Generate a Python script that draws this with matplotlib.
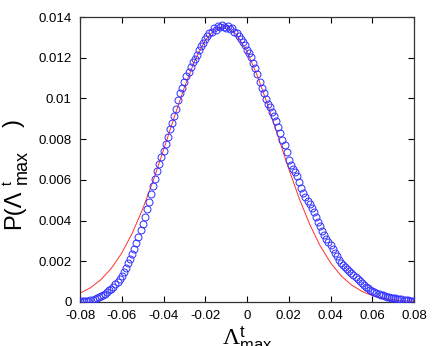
import numpy as np
import matplotlib
matplotlib.use("Agg")
import matplotlib.pyplot as plt

# ===============================================================================
# data

# histogram of Lambda^t_max (bins every 0.001 from -0.08 to 0.08)
lam = np.round(np.arange(-80, 81) * 0.001, 3)
prob = [
    0.00002, 0.00003, 0.00004, 0.00005, 0.00007, 0.00009, 0.00012, 0.00015, 0.00019, 0.00024,
    0.00029, 0.00035, 0.00041, 0.00049, 0.00057, 0.00066, 0.00076, 0.00088, 0.00100, 0.00115,
    0.00130, 0.00148, 0.00168, 0.00190, 0.00212, 0.00236, 0.00262, 0.00290, 0.00320, 0.00352,
    0.00385, 0.00420, 0.00455, 0.00492, 0.00530, 0.00568, 0.00605, 0.00645, 0.00680, 0.00712,
    0.00740, 0.00775, 0.00812, 0.00850, 0.00878, 0.00915, 0.00950, 0.00990, 0.01025, 0.01050,
    0.01080, 0.01108, 0.01132, 0.01155, 0.01178, 0.01196, 0.01215, 0.01240, 0.01258, 0.01272,
    0.01292, 0.01305, 0.01320, 0.01328, 0.01345, 0.01338, 0.01355, 0.01350, 0.01362, 0.01352,
    0.01348, 0.01358, 0.01340, 0.01345, 0.01328, 0.01320, 0.01305, 0.01290, 0.01275, 0.01262,
    0.01238, 0.01222, 0.01205, 0.01175, 0.01150, 0.01118, 0.01080, 0.01052, 0.01025, 0.00995,
    0.00975, 0.00958, 0.00935, 0.00912, 0.00890, 0.00860, 0.00830, 0.00795, 0.00770, 0.00735,
    0.00700, 0.00675, 0.00655, 0.00640, 0.00620, 0.00590, 0.00560, 0.00535, 0.00515, 0.00495,
    0.00480, 0.00460, 0.00440, 0.00418, 0.00395, 0.00372, 0.00350, 0.00330, 0.00310, 0.00295,
    0.00280, 0.00258, 0.00240, 0.00224, 0.00208, 0.00194, 0.00180, 0.00172, 0.00163, 0.00152,
    0.00143, 0.00134, 0.00125, 0.00113, 0.00102, 0.00093, 0.00085, 0.00076, 0.00068, 0.00061,
    0.00055, 0.00049, 0.00044, 0.00040, 0.00036, 0.00033, 0.00030, 0.00027, 0.00025, 0.00022,
    0.00020, 0.00018, 0.00016, 0.00014, 0.00013, 0.00011, 0.00010, 0.00008, 0.00007, 0.00005,
    0.00004,
]

# fitted curve (red), sampled every 0.005
fit_x = np.round(np.arange(-16, 17) * 0.005, 3)
fit_y = [
    0.000430, 0.000699, 0.001095, 0.001653, 0.002405, 0.003373, 0.004560, 0.005941,
    0.007463, 0.009034, 0.010543, 0.011860, 0.012859, 0.013438, 0.013538, 0.013145,
    0.012304, 0.011100, 0.009652, 0.008091, 0.006538, 0.005092, 0.003822, 0.002766,
    0.001929, 0.001297, 0.000840, 0.000525, 0.000316, 0.000183, 0.000103, 0.000055,
    0.000029,
]

xticks = [-0.08, -0.06, -0.04, -0.02, 0, 0.02, 0.04, 0.06, 0.08]
xticklabels = ['-0.08', '-0.06', '-0.04', '-0.02', '0', '0.02', '0.04', '0.06', '0.08']
yticks = [0, 0.002, 0.004, 0.006, 0.008, 0.01, 0.012, 0.014]
yticklabels = ['0', '0.002', '0.004', '0.006', '0.008', '0.01', '0.012', '0.014']

# ===============================================================================

plt.rcParams['font.family'] = ['Liberation Sans', 'DejaVu Sans']
plt.rcParams['mathtext.fontset'] = 'custom'
plt.rcParams['mathtext.rm'] = 'Liberation Serif'
plt.rcParams['mathtext.it'] = 'Liberation Serif:italic'
plt.rcParams['mathtext.sf'] = 'Liberation Sans'

W, H = 436, 346
fig = plt.figure(figsize=(W / 100, H / 100), dpi=100)
ax = fig.add_axes([80 / W, 1 - 302 / H, 334 / W, 285 / H])

ax.plot(fit_x, fit_y, '-', c='#ff3030', lw=0.7, zorder=2)
ax.plot(lam, prob, 'o', ms=5, mfc='none', mec='#3030ff', mew=0.7, zorder=3)

ax.set_xlim(-0.08, 0.08)
ax.set_ylim(0, 0.014)
ax.set_xticks(xticks)
ax.set_xticklabels(xticklabels)
ax.set_yticks(yticks)
ax.set_yticklabels(yticklabels)
ax.tick_params(direction='in', length=4, width=0.8, top=True, right=True,
               labelsize=9.5, pad=6, colors='black')
for sp in ax.spines.values():
    sp.set_linewidth(0.9)
    sp.set_color('#333333')

# y label built from pieces (gnuplot-like: big scripts)
def ytxt(px, py, s, size):
    fig.text(px / W, 1 - py / H, s, fontsize=size, rotation=90,
             rotation_mode='anchor', ha='left', va='baseline')

ytxt(20, 229, 'P(Λ', 17)
ytxt(12, 185, 't', 10)
ytxt(27, 184, 'max', 13)
ytxt(20, 127, ')', 17)

ax.set_xlabel(r'$\Lambda^{\mathsf{t}}_{\mathsf{max}}$', fontsize=17)
ax.xaxis.set_label_coords(0.5, -0.08)

fig.savefig('out.png', dpi=100)
